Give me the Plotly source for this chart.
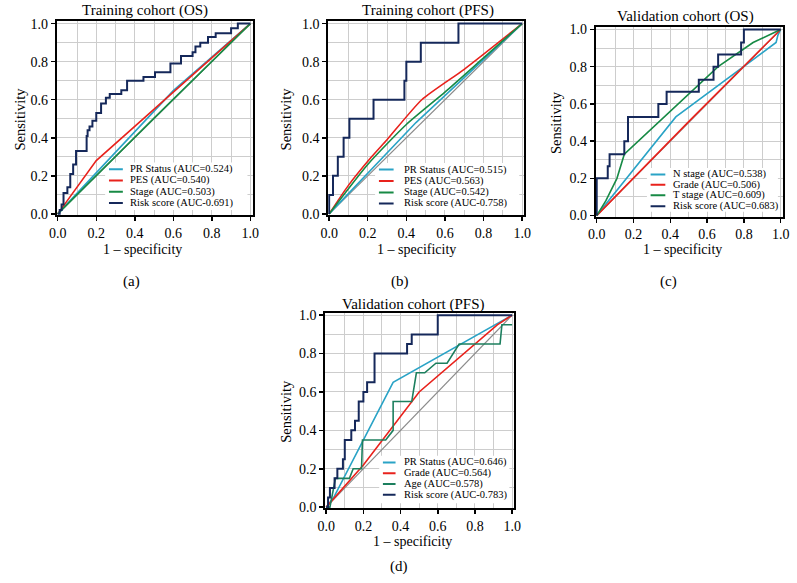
import plotly.graph_objects as go

W, H = 797, 583
FONT = "Liberation Serif"

NAVY = "#15285a"
RED = "#e8221c"
GREEN = "#178a45"
TEAL_GREEN = "#1c7f5e"
CYAN = "#2aa3c6"
GRAY = "#8a8a8a"

# ---------------- data ----------------
# (a) Training cohort (OS)
A_PR_FPR = [0, 0.6, 1]
A_PR_TPR = [0, 0.648, 1]
A_PES_FPR = [0, 0.2, 1]
A_PES_TPR = [0, 0.28, 1]
A_STAGE_FPR = [0, 0.5, 1]
A_STAGE_TPR = [0, 0.503, 1]
A_RISK_FPR = [0, 0.01, 0.02, 0.03, 0.05, 0.065, 0.08, 0.095, 0.15, 0.155, 0.165, 0.18, 0.2, 0.225,
              0.25, 0.27, 0.33, 0.36, 0.445, 0.505, 0.585, 0.64, 0.70, 0.715, 0.74, 0.78, 0.82,
              0.90, 0.935, 1.0]
A_RISK_TPR = [0, 0.02, 0.05, 0.11, 0.14, 0.21, 0.26, 0.33, 0.41, 0.44, 0.46, 0.49, 0.53, 0.58,
              0.61, 0.63, 0.65, 0.70, 0.72, 0.745, 0.79, 0.83, 0.85, 0.88, 0.90, 0.93, 0.95,
              0.975, 1.0, 1.0]
A_LABELS = ["PR Status (AUC=0.524)", "PES (AUC=0.540)", "Stage (AUC=0.503)", "Risk score (AUC-0.691)"]

# (b) Training cohort (PFS)
B_PR_FPR = [0, 0.45, 1]
B_PR_TPR = [0, 0.48, 1]
B_PES_FPR = [0, 0.1, 0.22, 0.3, 0.48, 0.7, 1]
B_PES_TPR = [0, 0.15, 0.30, 0.39, 0.6, 0.76, 1]
B_STAGE_FPR = [0, 0.2, 0.4, 0.6, 0.8, 1]
B_STAGE_TPR = [0, 0.26, 0.47, 0.64, 0.82, 1]
B_RISK_FPR = [0, 0, 0.02, 0.045, 0.075, 0.105, 0.23, 0.39, 0.40, 0.475, 0.67, 1.0]
B_RISK_TPR = [0, 0.1, 0.2, 0.3, 0.4, 0.5, 0.6, 0.7, 0.8, 0.9, 1.0, 1.0]
B_LABELS = ["PR Status (AUC=0.515)", "PES (AUC=0.563)", "Stage (AUC=0.542)", "Risk score (AUC-0.758)"]

# (c) Validation cohort (OS)
C_N_FPR = [0, 0.43, 0.975, 0.985, 1]
C_N_TPR = [0, 0.53, 0.93, 0.97, 1]
C_GRADE_FPR = [0, 0.5, 1]
C_GRADE_TPR = [0, 0.505, 1]
C_T_FPR = [0, 0.05, 0.11, 0.15, 0.66, 0.85, 1]
C_T_TPR = [0, 0.08, 0.2, 0.33, 0.80, 0.93, 1]
C_RISK_FPR = [0, 0, 0.06, 0.07, 0.15, 0.17, 0.335, 0.38, 0.555, 0.635, 0.66, 0.785, 0.80, 1.0]
C_RISK_TPR = [0, 0.2, 0.265, 0.33, 0.4, 0.53, 0.6, 0.665, 0.73, 0.80, 0.865, 0.93, 1.0, 1.0]
C_LABELS = ["N stage (AUC=0.538)", "Grade (AUC=0.506)", "T stage (AUC=0.609)", "Risk score (AUC=0.683)"]

# (d) Validation cohort (PFS)
D_PR_FPR = [0, 0.04, 0.36, 1]
D_PR_TPR = [0, 0.05, 0.65, 1]
D_GRADE_FPR = [0, 0.1, 0.2, 0.5, 0.92, 1]
D_GRADE_TPR = [0, 0.11, 0.22, 0.6, 0.95, 1]
D_AGE_FPR = [0, 0.02, 0.04, 0.05, 0.125, 0.145, 0.19, 0.195, 0.32, 0.36, 0.36, 0.46, 0.485,
             0.53, 0.59, 0.65, 0.715, 0.935, 0.945, 1.0]
D_AGE_TPR = [0, 0, 0.1, 0.15, 0.15, 0.2, 0.2, 0.35, 0.35, 0.4, 0.55, 0.55, 0.7,
             0.7, 0.75, 0.75, 0.85, 0.85, 0.95, 0.95]
D_RISK_FPR = [0, 0.01, 0.02, 0.045, 0.06, 0.09, 0.1, 0.135, 0.155, 0.175, 0.2, 0.22, 0.26,
              0.435, 0.46, 0.6, 1.0]
D_RISK_TPR = [0, 0.05, 0.1, 0.15, 0.2, 0.25, 0.35, 0.4, 0.45, 0.55, 0.6, 0.65, 0.8,
              0.85, 0.9, 1.0, 1.0]
D_LABELS = ["PR Status (AUC=0.646)", "Grade (AUC=0.564)", "Age (AUC=0.578)", "Risk score (AUC-0.783)"]

DIAG = [0, 1]

TITLES = ["Training cohort (OS)", "Training cohort (PFS)", "Validation cohort (OS)", "Validation cohort (PFS)"]
PANEL_TAGS = ["(a)", "(b)", "(c)", "(d)"]

# ---------------- layout geometry (pixels) ----------------
RMIN, RMAX = -0.005, 1.012
# (x0px, x1px, y0px, y1px) where data 0 / 1 map
GEOM = [
    (50.7, 247.0, 213.3, 19.0),
    (327.3, 524.0, 213.3, 19.0),
    (600.0, 787.5, 215.0, 25.0),
    (324.3, 513.8, 512.7, 316.7),
]
TITLE_POS = [(140, 6), (428, 6), (691, 12), (413, 306)]
XTITLE_POS = [(137, 250), (416, 250), (687, 250), (412, 548)]
YTITLE_X = [12, 283, 558, 283]
TAG_POS = [(126, 282), (400, 282), (673, 282), (398, 573)]
LEG_X = [(0.266, 0.338, 0.363), (0.258, 0.334, 0.38), (0.293, 0.373, 0.405), (0.305, 0.373, 0.41)]
LEG_Y = [(0.235, 0.176, 0.117, 0.058), (0.233, 0.173, 0.113, 0.055),
         (0.221, 0.165, 0.109, 0.050), (0.233, 0.177, 0.12, 0.065)]


def px2x(p):
    return p / W


def py2y(p):
    return 1 - p / H


fig = go.Figure()

panels = [
    [(A_PR_FPR, A_PR_TPR, CYAN, 1.6, "linear"), (A_PES_FPR, A_PES_TPR, RED, 1.6, "linear"),
     (A_STAGE_FPR, A_STAGE_TPR, GREEN, 1.6, "linear"), (A_RISK_FPR, A_RISK_TPR, NAVY, 2.0, "hv")],
    [(B_PR_FPR, B_PR_TPR, CYAN, 1.6, "linear"), (B_PES_FPR, B_PES_TPR, RED, 1.6, "spline"),
     (B_STAGE_FPR, B_STAGE_TPR, GREEN, 1.6, "spline"), (B_RISK_FPR, B_RISK_TPR, NAVY, 2.0, "hv")],
    [(C_N_FPR, C_N_TPR, CYAN, 1.6, "linear"), (C_GRADE_FPR, C_GRADE_TPR, RED, 1.6, "linear"),
     (C_T_FPR, C_T_TPR, GREEN, 1.6, "linear"), (C_RISK_FPR, C_RISK_TPR, NAVY, 2.0, "hv")],
    [(D_PR_FPR, D_PR_TPR, CYAN, 1.6, "linear"), (D_GRADE_FPR, D_GRADE_TPR, RED, 1.6, "linear"),
     (D_AGE_FPR, D_AGE_TPR, TEAL_GREEN, 1.6, "linear"), (D_RISK_FPR, D_RISK_TPR, NAVY, 2.0, "hv")],
]
labels = [A_LABELS, B_LABELS, C_LABELS, D_LABELS]

annotations = []
shapes = []

for i, (series, labs) in enumerate(zip(panels, labels)):
    n = "" if i == 0 else str(i + 1)
    xa, ya = "x" + n, "y" + n
    x0p, x1p, y0p, y1p = GEOM[i]
    sx = x1p - x0p
    sy = y0p - y1p
    xdom = [px2x(x0p + RMIN * sx), px2x(x0p + RMAX * sx)]
    ydom = [py2y(y0p - RMIN * sy), py2y(y0p - RMAX * sy)]

    axis_common = dict(
        range=[RMIN, RMAX], showline=True, linewidth=2, linecolor="black", mirror=True,
        ticks="outside", ticklen=4, tickwidth=1.5, tickcolor="black", dtick=0.2, tick0=0,
        tickformat=".1f", showgrid=True, gridcolor="#cdcdcd", gridwidth=1, zeroline=False,
        tickfont=dict(family=FONT, size=14, color="black"), fixedrange=True,
        minor=dict(dtick=0.1, showgrid=True, gridcolor="#cdcdcd", gridwidth=1, ticks=""),
    )
    fig.layout["xaxis" + n] = dict(domain=xdom, anchor=ya, **axis_common)
    fig.layout["yaxis" + n] = dict(domain=ydom, anchor=xa, **axis_common)

    # legend background (covers grid)
    shapes.append(dict(type="rect", xref=xa, yref=ya, x0=LEG_X[i][0] - 0.02, x1=0.985,
                       y0=0.02, y1=LEG_Y[i][0] + 0.035, fillcolor="white", line_width=0,
                       layer="between"))

    fig.add_trace(go.Scatter(x=DIAG, y=DIAG, mode="lines", line=dict(color=GRAY, width=1.2),
                             xaxis=xa, yaxis=ya, showlegend=False, hoverinfo="skip"))
    for (fx, ty, col, lw, shape), lab, ly in zip(series, labs, LEG_Y[i]):
        fig.add_trace(go.Scatter(x=fx, y=ty, mode="lines",
                                 line=dict(color=col, width=lw, shape=shape,
                                           **({"smoothing": 0.6} if shape == "spline" else {})),
                                 xaxis=xa, yaxis=ya, showlegend=False, name=lab))
        shapes.append(dict(type="line", xref=xa, yref=ya, x0=LEG_X[i][0], x1=LEG_X[i][1],
                           y0=ly, y1=ly, line=dict(color=col, width=2)))
        annotations.append(dict(xref=xa, yref=ya, x=LEG_X[i][2], y=ly, text=lab, showarrow=False,
                                xanchor="left", yanchor="middle",
                                font=dict(family=FONT, size=10.5, color="black")))

    tx, ty_ = TITLE_POS[i]
    annotations.append(dict(xref="paper", yref="paper", x=px2x(tx), y=py2y(ty_), text=TITLES[i],
                            showarrow=False, xanchor="center", yanchor="middle",
                            font=dict(family=FONT, size=15, color="black")))
    ax_, ay_ = XTITLE_POS[i]
    annotations.append(dict(xref="paper", yref="paper", x=px2x(ax_), y=py2y(ay_),
                            text="1 \u2013 specificity", showarrow=False, xanchor="center",
                            yanchor="middle", font=dict(family=FONT, size=14, color="black")))
    annotations.append(dict(xref="paper", yref="paper", x=px2x(YTITLE_X[i]),
                            y=py2y((y0p + y1p) / 2), text="Sensitivity", showarrow=False,
                            textangle=-90, xanchor="center", yanchor="middle",
                            font=dict(family=FONT, size=14.5, color="black")))
    gx, gy = TAG_POS[i]
    annotations.append(dict(xref="paper", yref="paper", x=px2x(gx), y=py2y(gy), text=PANEL_TAGS[i],
                            showarrow=False, xanchor="center", yanchor="middle",
                            font=dict(family=FONT, size=15, color="black")))

fig.update_layout(
    width=W, height=H, margin=dict(l=0, r=0, t=0, b=0),
    paper_bgcolor="white", plot_bgcolor="white",
    annotations=annotations, shapes=shapes, showlegend=False,
)

fig.write_html("out.html", config={"displayModeBar": False, "staticPlot": True})

# remove the browser's default page margin so the figure sits at the window origin
with open("out.html", "r", encoding="utf-8") as fh:
    html = fh.read()
html = html.replace("<head>", "<head><style>html,body{margin:0;padding:0;overflow:hidden;}</style>", 1)
with open("out.html", "w", encoding="utf-8") as fh:
    fh.write(html)
